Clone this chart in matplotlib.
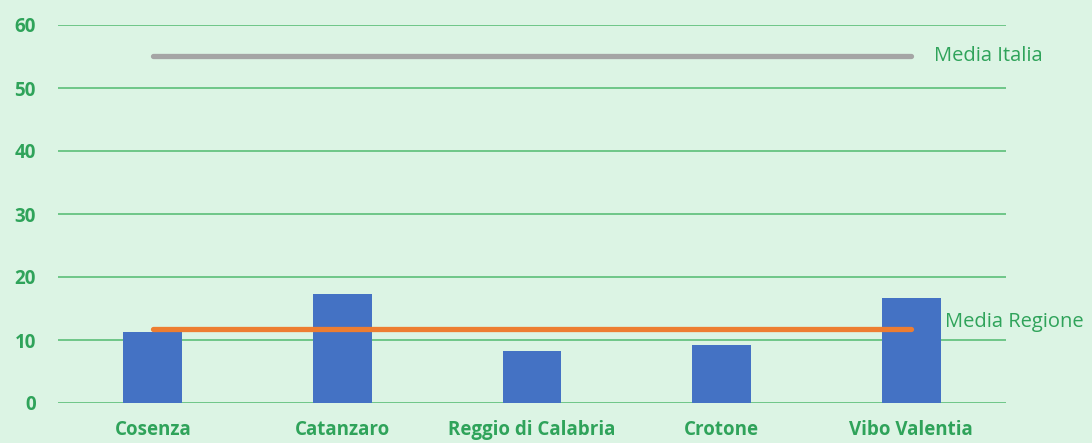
import matplotlib
matplotlib.use("Agg")
import matplotlib.pyplot as plt
import numpy as np

# Province data
provinces = ['Cosenza', 'Catanzaro', 'Reggio di Calabria', 'Crotone', 'Vibo Valentia']
values = [11.2, 17.3, 8.3, 9.2, 16.7]
media_regione = 11.8
media_italia = 55.1

bg = '#dcf4e4'
green = '#2fa35a'
grid_green = '#5cbf78'

plt.rcParams['font.family'] = ['Open Sans', 'DejaVu Sans']

fig = plt.figure(figsize=(10.92, 4.43), dpi=100, facecolor=bg)
ax = fig.add_axes([58 / 1092, 1 - 403 / 443, 948 / 1092, 378 / 443])
ax.set_facecolor(bg)

x = np.arange(len(provinces))
ax.bar(x, values, width=0.31, color='#4472c4', zorder=3)
ax.plot(x, [media_italia] * len(x), color='#a5a5a5', lw=3.8, solid_capstyle='round', zorder=4)
ax.plot(x, [media_regione] * len(x), color='#ed7d31', lw=3.8, solid_capstyle='round', zorder=4)

ax.text(x[-1] + 0.12, media_italia, 'Media Italia', color=green, fontsize=14.5, va='center', ha='left')
ax.text(x[-1] + 0.18, media_regione + 1.1, 'Media Regione', color=green, fontsize=14.5, va='center', ha='left')

ax.set_xlim(-0.5, 4.5)
ax.set_ylim(0, 60)
ax.set_yticks(range(0, 61, 10))
ax.yaxis.grid(True, color=grid_green, lw=1.2, zorder=0)
ax.set_axisbelow(True)
ax.set_xticks(x)
ax.set_xticklabels(provinces)
for s in ax.spines.values():
    s.set_visible(False)
ax.tick_params(axis='both', length=0, colors=green, labelsize=13.5)
ax.tick_params(axis='x', pad=12)
ax.tick_params(axis='y', pad=16)
for lbl in ax.get_xticklabels() + ax.get_yticklabels():
    lbl.set_fontweight('bold')

fig.savefig('out.png', dpi=100, facecolor=bg)
